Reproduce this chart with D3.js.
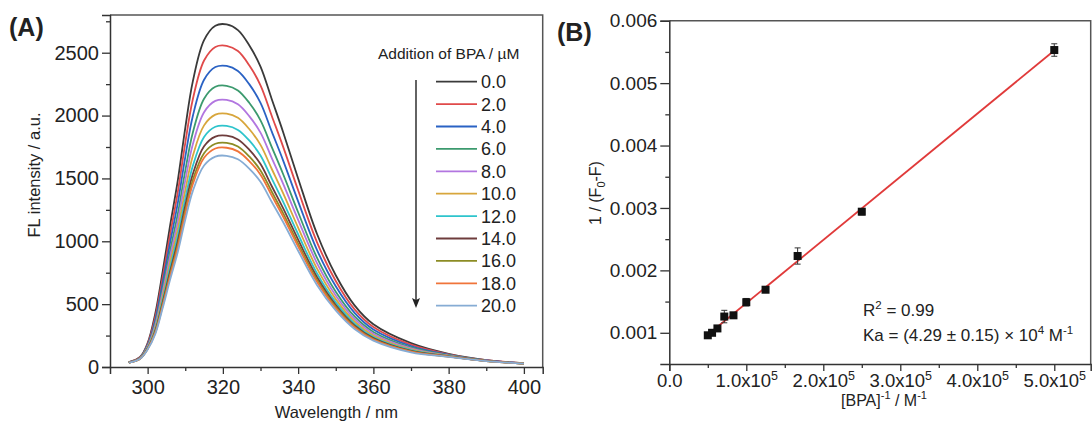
<!DOCTYPE html>
<html>
<head>
<meta charset="utf-8">
<script src="https://cdn.jsdelivr.net/npm/d3@7"></script>
<style>
  html, body { margin: 0; padding: 0; background: #fff; }
  svg { display: block; }
  text { font-family: "Liberation Sans", Arial, sans-serif; fill: #222; }
</style>
</head>
<body>
<svg id="chart" width="1092" height="425"></svg>
<script>
// ---------- Panel A data ----------
const wavelengths = [295,298,300,302,304,306,308,310,312,315,318,321,324,327,330,333,336,340,345,350,355,360,370,380,390,400];
const concLabels = ["0.0","2.0","4.0","6.0","8.0","10.0","12.0","14.0","16.0","18.0","20.0"];
const seriesColors = ["#3a3a3a","#e04a4a","#2a62c4","#3c9a6e","#b276e0","#d8a63c","#2ec4cc","#6e3c3c","#8c8c24","#f0743a","#86acd4"];
const spec00 = [38,80,190,420,760,1130,1480,1900,2270,2600,2715,2725,2680,2560,2390,2130,1870,1500,1060,730,490,340,190,105,55,30];
const spec02 = [37,78,182,394,713,1059,1388,1781,2128,2438,2546,2555,2513,2400,2241,1997,1753,1406,994,684,459,319,178,101,54,29];
const spec04 = [37,75,174,369,668,993,1301,1670,1995,2285,2386,2395,2355,2250,2101,1872,1644,1318,932,642,431,299,167,97,52,29];
const spec06 = [36,73,166,345,624,928,1215,1560,1863,2134,2229,2237,2200,2102,1962,1749,1535,1231,870,599,402,279,156,94,51,28];
const spec08 = [35,71,161,328,593,881,1154,1482,1770,2027,2117,2125,2090,1996,1864,1661,1458,1170,827,569,382,265,148,91,50,28];
const spec10 = [35,70,155,311,562,836,1094,1405,1678,1922,2007,2015,1982,1893,1767,1575,1383,1109,784,540,362,251,140,89,49,28];
const spec12 = [35,68,151,296,535,795,1042,1337,1598,1830,1911,1918,1886,1802,1682,1499,1316,1056,746,514,345,239,134,86,48,27];
const spec14 = [34,67,147,284,513,763,999,1283,1533,1756,1833,1840,1810,1729,1614,1438,1263,1013,716,493,331,230,128,85,48,27];
const spec16 = [34,66,144,275,497,739,968,1243,1485,1701,1776,1783,1754,1675,1564,1394,1224,981,694,478,321,222,124,83,47,27];
const spec18 = [34,66,142,269,486,723,947,1216,1453,1664,1738,1744,1715,1638,1530,1363,1197,960,678,467,314,218,122,82,47,27];
const spec20 = [34,65,139,259,469,697,912,1171,1399,1603,1674,1680,1652,1578,1473,1313,1153,925,653,450,302,210,117,81,47,27];
const spectra = [spec00,spec02,spec04,spec06,spec08,spec10,spec12,spec14,spec16,spec18,spec20];
const xTicksA = [300,320,340,360,380,400];
const xMinorA = [310,330,350,370,390];
const yTicksA = [0,500,1000,1500,2000,2500];
const yMinorA = [250,750,1250,1750,2250,2750];

// ---------- Panel B data ----------
const invConc = [50000,55556,62500,71429,83333,100000,125000,166667,250000,500000];
const invDF = [0.00096,0.00100,0.00107,0.00126,0.00128,0.00149,0.00169,0.00223,0.00294,0.00553];
const invDFerr = [0.00003,0.00003,0.00004,0.00010,0.00003,0.00006,0.00003,0.00013,0.00005,0.00010];
const xTicksB = [0,100000,200000,300000,400000,500000];
const xMinorB = [50000,150000,250000,350000,450000];
const yTicksB = [0.001,0.002,0.003,0.004,0.005,0.006];
const yMinorB = [0.0015,0.0025,0.0035,0.0045,0.0055];

const svg = d3.select("#chart");
const axisColor = "#333";
const frameColor = "#555";

function styleAxis(g, fontSize) {
  g.select(".domain").attr("stroke", axisColor).attr("stroke-width", 1.5);
  g.selectAll(".tick line").attr("stroke", axisColor).attr("stroke-width", 1.3);
  g.selectAll(".tick text").attr("fill", "#222").style("font-size", fontSize + "px")
    .style("font-family", "'Liberation Sans', Arial, sans-serif");
}
// append "base" + superscript pieces with pixel offsets so baseline returns exactly
function richText(t, parts, supSize, shift) {
  parts.forEach(p => {
    if (p.sup) {
      t.append("tspan").attr("dy", -shift).style("font-size", supSize + "px").text(p.s);
    } else if (p.sub) {
      t.append("tspan").attr("dy", shift * 0.6).style("font-size", supSize + "px").text(p.s);
    } else {
      const ts = t.append("tspan").text(p.s);
      if (p.back) ts.attr("dy", p.back);
    }
  });
}

// ================= Panel A =================
const A = {left: 110, right: 542.7, top: 15, bottom: 367};
const xA = d3.scaleLinear().domain([290, 405]).range([A.left, A.right]);
const yA = d3.scaleLinear().domain([0, 2800]).range([A.bottom, A.top]);

svg.append("path")
  .attr("d", `M${A.left},${A.top}H${A.right}V${A.bottom}`)
  .attr("fill", "none").attr("stroke", frameColor).attr("stroke-width", 1.5);

const line = d3.line().x((d, i) => xA(wavelengths[i])).y(d => yA(d)).curve(d3.curveCatmullRom.alpha(0.5));
const gCurves = svg.append("g");
spectra.forEach((s, k) => {
  gCurves.append("path").datum(s)
    .attr("d", line).attr("fill", "none")
    .attr("stroke", seriesColors[k]).attr("stroke-width", 1.8);
});

const gxA = svg.append("g").attr("transform", `translate(0,${A.bottom})`)
  .call(d3.axisBottom(xA).tickValues(xTicksA).tickSize(7).tickPadding(6).tickFormat(d3.format("d")));
styleAxis(gxA, 20);
const gxAm = svg.append("g").attr("transform", `translate(0,${A.bottom})`)
  .call(d3.axisBottom(xA).tickValues(xMinorA).tickSize(4).tickFormat(""));
gxAm.select(".domain").remove();
gxAm.selectAll(".tick line").attr("stroke", axisColor).attr("stroke-width", 1.3);

const gyA = svg.append("g").attr("transform", `translate(${A.left},0)`)
  .call(d3.axisLeft(yA).tickValues(yTicksA).tickSize(8).tickPadding(3).tickFormat(d3.format("d")));
styleAxis(gyA, 20);
const gyAm = svg.append("g").attr("transform", `translate(${A.left},0)`)
  .call(d3.axisLeft(yA).tickValues(yMinorA).tickSize(4).tickFormat(""));
gyAm.select(".domain").remove();
gyAm.selectAll(".tick line").attr("stroke", axisColor).attr("stroke-width", 1.3);

svg.append("text").attr("x", (A.left + A.right) / 2 + 10).attr("y", 418)
  .attr("text-anchor", "middle").style("font-size", "16.5px").text("Wavelength / nm");
svg.append("text").attr("transform", `translate(40,${175}) rotate(-90)`)
  .attr("text-anchor", "middle").style("font-size", "16.5px").text("FL intensity / a.u.");
svg.append("text").attr("x", 9).attr("y", 36).style("font-size", "25px").style("font-weight", "bold")
  .text("(A)");

// legend
svg.append("text").attr("x", 378).attr("y", 58.5).style("font-size", "15.5px").text("Addition of BPA / µM");
const legY0 = 81.7, legDy = 22.4;
const gLeg = svg.append("g");
concLabels.forEach((c, i) => {
  const y = legY0 + i * legDy;
  gLeg.append("line").attr("x1", 436).attr("x2", 477).attr("y1", y).attr("y2", y)
    .attr("stroke", seriesColors[i]).attr("stroke-width", 1.8);
  gLeg.append("text").attr("x", 481).attr("y", y).attr("dy", "0.36em")
    .style("font-size", "18px").text(c);
});
svg.append("line").attr("x1", 416).attr("x2", 416).attr("y1", 80).attr("y2", 300)
  .attr("stroke", "#222").attr("stroke-width", 1.4);
svg.append("path").attr("d", "M412,298 L416,308 L420,298 L416,300 Z").attr("fill", "#222");

// ================= Panel B =================
const B = {left: 669.3, right: 1090.7, top: 20.7, bottom: 364};
const xB = d3.scaleLinear().domain([0, 547300]).range([B.left, B.right]);
const yB = d3.scaleLinear().domain([0.0005, 0.006]).range([B.bottom, B.top]);

svg.append("path")
  .attr("d", `M${B.left},${B.top}H${B.right}V${B.bottom}`)
  .attr("fill", "none").attr("stroke", frameColor).attr("stroke-width", 1.5);

// linear fit (least squares)
const mx = d3.mean(invConc), my = d3.mean(invDF);
const slope = d3.sum(invConc, (x, i) => (x - mx) * (invDF[i] - my)) / d3.sum(invConc, x => (x - mx) ** 2);
const intercept = my - slope * mx;
const xFit = d3.extent(invConc);
svg.append("line")
  .attr("x1", xB(xFit[0])).attr("y1", yB(intercept + slope * xFit[0]))
  .attr("x2", xB(xFit[1])).attr("y2", yB(intercept + slope * xFit[1]))
  .attr("stroke", "#e03a3a").attr("stroke-width", 1.8);

const gPts = svg.append("g");
invConc.forEach((x, i) => {
  const cx = xB(x), y1 = yB(invDF[i] - invDFerr[i]), y2 = yB(invDF[i] + invDFerr[i]);
  gPts.append("line").attr("x1", cx).attr("x2", cx).attr("y1", y1).attr("y2", y2)
    .attr("stroke", "#333").attr("stroke-width", 1);
  [y1, y2].forEach(yy => gPts.append("line").attr("x1", cx - 3).attr("x2", cx + 3)
    .attr("y1", yy).attr("y2", yy).attr("stroke", "#333").attr("stroke-width", 1));
  gPts.append("rect").attr("x", cx - 4).attr("y", yB(invDF[i]) - 4)
    .attr("width", 8).attr("height", 8).attr("fill", "#111");
});

const gxB = svg.append("g").attr("transform", `translate(0,${B.bottom})`)
  .call(d3.axisBottom(xB).tickValues(xTicksB).tickSize(7).tickPadding(5).tickFormat(""));
styleAxis(gxB, 18.5);
gxB.selectAll(".tick").each(function(d) {
  const t = d3.select(this).append("text").attr("y", 23).attr("text-anchor", "middle")
    .attr("fill", "#222").style("font-size", "18.5px");
  if (d === 0) { t.text("0.0"); }
  else {
    t.append("tspan").text((d / 1e5).toFixed(1) + "x10");
    t.append("tspan").attr("dy", -7).style("font-size", "12.5px").text("5");
  }
});
const gxBm = svg.append("g").attr("transform", `translate(0,${B.bottom})`)
  .call(d3.axisBottom(xB).tickValues(xMinorB).tickSize(4).tickFormat(""));
gxBm.select(".domain").remove();
gxBm.selectAll(".tick line").attr("stroke", axisColor).attr("stroke-width", 1.3);

const gyB = svg.append("g").attr("transform", `translate(${B.left},0)`)
  .call(d3.axisLeft(yB).tickValues(yTicksB).tickSize(9).tickPadding(3).tickFormat(d3.format(".3f")));
styleAxis(gyB, 19);
const gyBm = svg.append("g").attr("transform", `translate(${B.left},0)`)
  .call(d3.axisLeft(yB).tickValues(yMinorB).tickSize(4).tickFormat(""));
gyBm.select(".domain").remove();
gyBm.selectAll(".tick line").attr("stroke", axisColor).attr("stroke-width", 1.3);

// labels
const xlabB = svg.append("text").attr("x", 884).attr("y", 406).attr("text-anchor", "middle")
  .style("font-size", "16px");
richText(xlabB, [{s: "[BPA]"}, {s: "-1", sup: true}, {s: " / M", back: 7}, {s: "-1", sup: true}], 11, 7);

const ylabB = svg.append("text").attr("transform", `translate(601,${193}) rotate(-90)`)
  .attr("text-anchor", "middle").style("font-size", "16px");
richText(ylabB, [{s: "1 / (F"}, {s: "0", sub: true}, {s: "-F)", back: -4.2}], 11, 7);

svg.append("text").attr("x", 557).attr("y", 41).style("font-size", "25px").style("font-weight", "bold")
  .text("(B)");

const r2 = svg.append("text").attr("x", 863).attr("y", 316).style("font-size", "17px");
richText(r2, [{s: "R"}, {s: "2", sup: true}, {s: " = 0.99", back: 7}], 11.5, 7);

const ka = svg.append("text").attr("x", 863).attr("y", 341).style("font-size", "17px");
richText(ka, [{s: "Ka = (4.29 ± 0.15) × 10"}, {s: "4", sup: true}, {s: " M", back: 7}, {s: "-1", sup: true}], 11.5, 7);
</script>
</body>
</html>
